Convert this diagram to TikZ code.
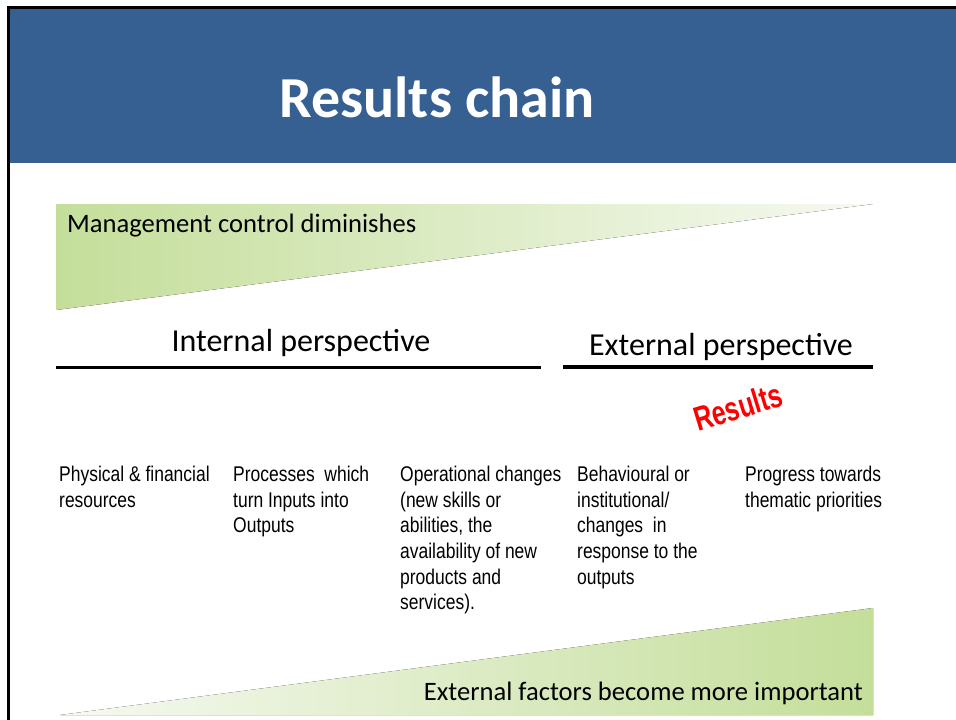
\documentclass[tikz,border=0pt]{standalone}
\usepackage{fontspec}
\setmainfont{Carlito}
\newfontfamily\narrowfont[FakeStretch=0.82]{Liberation Sans}
\newfontfamily\stampfont[FakeStretch=0.74]{Liberation Sans}
\definecolor{headerblue}{RGB}{55,96,146}
\definecolor{wedgegreen}{RGB}{196,222,154}
\definecolor{wedgepale}{RGB}{246,249,241}
\tikzset{
  coltext/.style={anchor=north west, align=left, inner sep=0pt,
    font=\narrowfont\fontsize{21.3}{25.6}\selectfont},
  persptext/.style={inner sep=0pt, font=\fontsize{32}{38}\selectfont},
  wedgetext/.style={inner sep=0pt, font=\fontsize{26.6}{32}\selectfont},
  rule/.style={line width=3.5pt}
}
\begin{document}
\begin{tikzpicture}[x=1pt,y=-1pt]
    \useasboundingbox (0,0) rectangle (956,720);
    \fill[white] (0,0) rectangle (956,720);
    \fill[headerblue] (8,8) rectangle (956,163);
    \draw[line width=3pt] (8,720) -- (8,7.5) -- (956,7.5);
    \node[text=white, font=\bfseries\fontsize{58}{64}\selectfont] (title) at (437,97) {Results chain};

    \fill[left color=wedgegreen, right color=wedgepale] (56,204) -- (873,204) -- (56,310) -- cycle;
    \node[wedgetext, anchor=west] (control) at (67,226) {Management control diminishes};

    \node[persptext] (internal) at (301,343) {Internal perspective};
    \node[persptext] (external) at (721,347) {External perspective};
    \coordinate (intA) at (56,367.5);
    \coordinate (intB) at (541,367.5);
    \coordinate (extA) at (563,367);
    \coordinate (extB) at (873,367);
    \draw[rule] (intA) -- (intB);
    \draw[rule] (extA) -- (extB);

    \node[rotate=17, text=red, font=\stampfont\bfseries\fontsize{34}{34}\selectfont] (stamp) at (738,407) {Results};

    \node[coltext] (inputs) at (59,466) {Physical \& financial\\resources};
    \node[coltext] (activities) at (233,466) {Processes\ \ which\\turn Inputs into\\Outputs};
    \node[coltext] (outputs) at (400,466) {Operational changes\\(new skills or\\abilities, the\\availability of new\\products and\\services).};
    \node[coltext] (outcomes) at (577,466) {Behavioural or\\institutional/\\changes\ \ in\\response to the\\outputs};
    \node[coltext] (impact) at (745,466) {Progress towards\\thematic priorities};

    \fill[left color=wedgepale, right color=wedgegreen] (60,715) -- (873,715) -- (873,608) -- cycle;
    \node[wedgetext, anchor=east] (factors) at (863,693) {External factors become more important};
\end{tikzpicture}
\end{document}
